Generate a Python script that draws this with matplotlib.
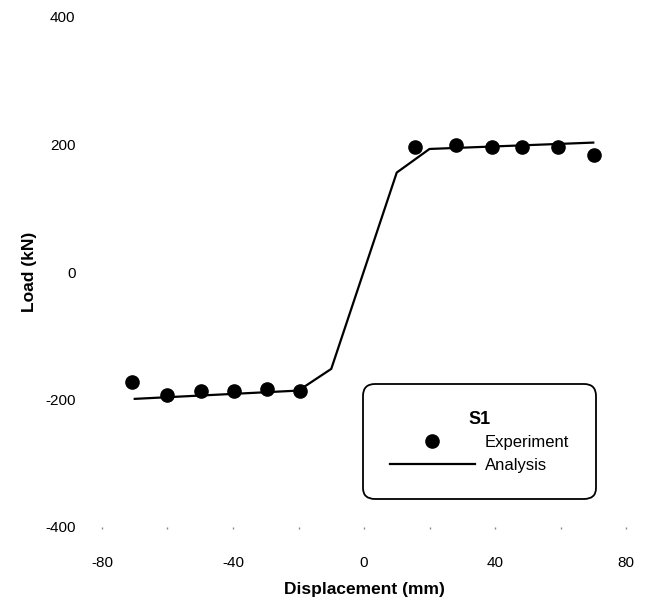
import matplotlib
matplotlib.use("Agg")
import matplotlib.pyplot as plt
from matplotlib.lines import Line2D

plt.rcParams['font.family'] = ['Liberation Sans', 'DejaVu Sans']

# Experiment (S1)
exp_disp = [-70.8, -60.2, -49.8, -39.7, -29.6, -19.5, 15.6, 28.1, 39.1, 48.3, 59.3, 70.3]
exp_load = [-172.5, -193.0, -186.7, -186.7, -183.5, -186.7, 195.6, 199.0, 196.6, 196.6, 196.6, 183.5]

# Analysis
ana_disp = [-70.0, -20.0, -10.0, 10.0, 20.0, 70.0]
ana_load = [-199.0, -186.0, -152.0, 156.0, 193.0, 203.0]

x_ticks = [-80, -60, -40, -20, 0, 20, 40, 60, 80]
x_ticklabels = ['-80', '', '-40', '', '0', '', '40', '', '80']
y_ticks = [-400, -200, 0, 200, 400]
y_ticklabels = ['-400', '-200', '0', '200', '400']

fig = plt.figure(figsize=(6.51, 6.05), dpi=100)
ax = fig.add_axes([102/651, 1-527/605, 524/651, 510/605])

ax.plot(ana_disp, ana_load, color='black', lw=1.6, label='Analysis', zorder=2)
ax.plot(exp_disp, exp_load, 'o', color='black', ms=9.5, label='Experiment', zorder=3)

ax.set_xlim(-80, 80)
ax.set_ylim(-400, 400)
for s in ax.spines.values():
    s.set_visible(False)

ax.set_xticks(x_ticks)
ax.set_xticklabels(x_ticklabels)
ax.set_yticks(y_ticks)
ax.set_yticklabels(y_ticklabels)
ax.tick_params(axis='x', length=1.2, width=1.0, color='#888888', pad=20, labelsize=11)
ax.tick_params(axis='y', length=0, pad=19, labelsize=11)

ax.set_xlabel('Displacement (mm)', fontsize=12.5, fontweight='bold', labelpad=8)
ax.set_ylabel('Load (kN)', fontsize=12.5, fontweight='bold', labelpad=6)

handles = [Line2D([], [], marker='o', ls='none', color='black', ms=9.5),
           Line2D([], [], color='black', lw=1.6)]
leg = ax.legend(handles, ['Experiment', 'Analysis'], title='S1',
                loc='upper left', bbox_to_anchor=(363/651, 1-384/605),
                bbox_transform=fig.transFigure, borderaxespad=0,
                fontsize=12, handlelength=5.1, handletextpad=0.6,
                borderpad=1.6, labelspacing=0.45, frameon=True, fancybox=True,
                framealpha=1, edgecolor='black')
leg.get_title().set_fontweight('bold')
leg.get_title().set_fontsize(13)
frame = leg.get_frame()
frame.set_linewidth(1.3)
frame.set_boxstyle('round', pad=0, rounding_size=0.7)

fig.savefig('out.png', dpi=100)
